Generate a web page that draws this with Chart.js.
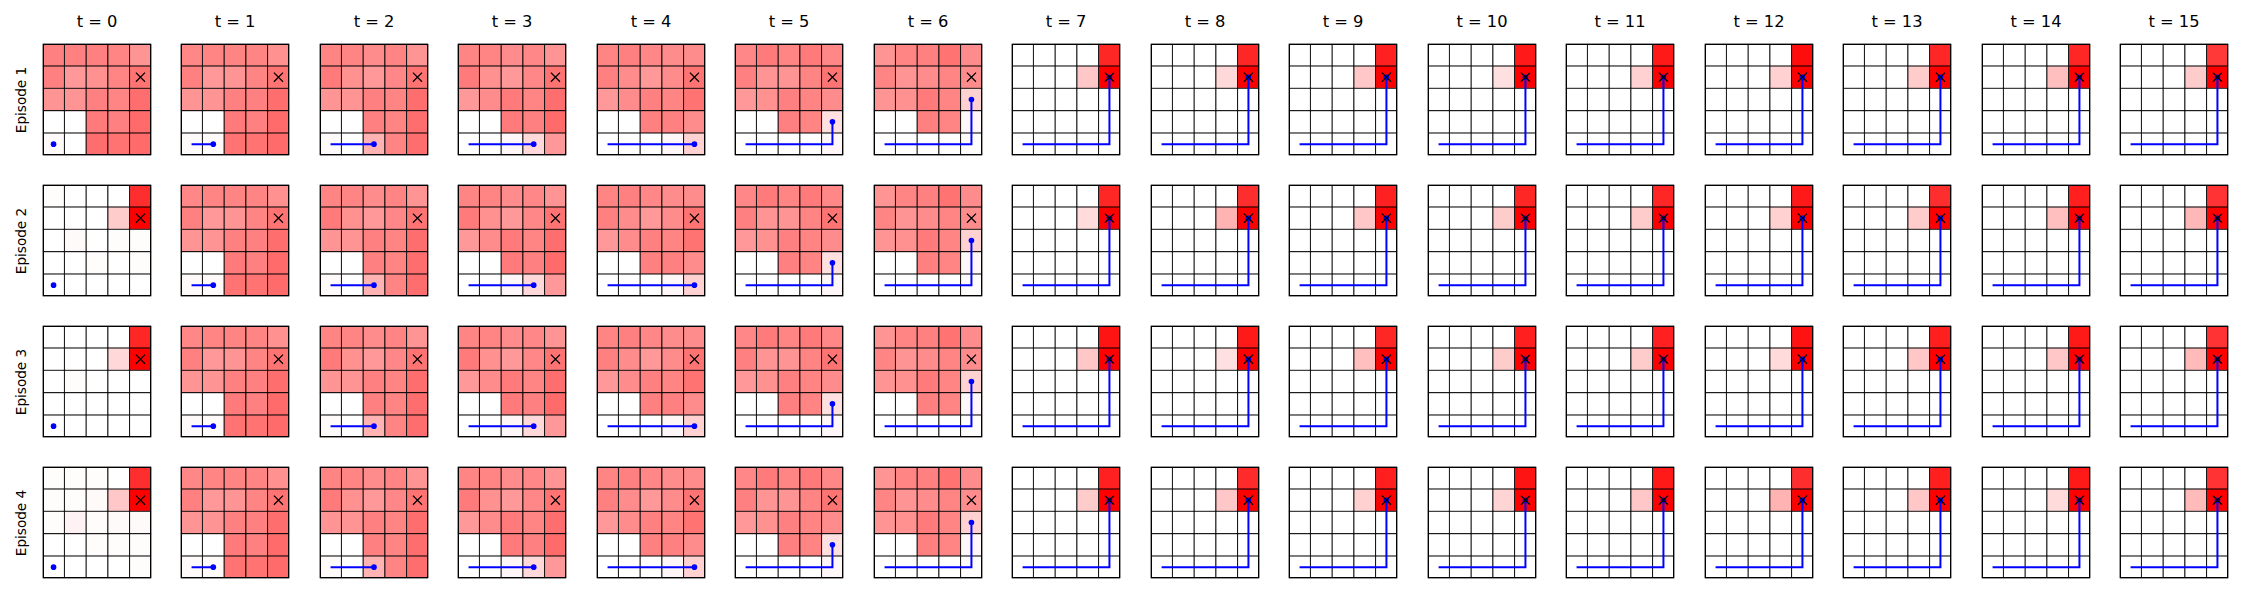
<!DOCTYPE html>
<html>
<head>
<meta charset="utf-8">
<script src="https://cdn.jsdelivr.net/npm/chart.js@4.4.1/dist/chart.umd.min.js"></script>
<style>
  html, body { margin: 0; padding: 0; background: #fff; }
  #fig { position: relative; width: 2250px; height: 600px; font-family: 'DejaVu Sans', sans-serif; color: #000; }
  #fig canvas { position: absolute; }
  .title { position: absolute; font-size: 16.3px; line-height: 20px; text-align: center; white-space: nowrap; }
  .ylab { position: absolute; font-size: 13.6px; line-height: 16px; text-align: center; white-space: nowrap; transform: rotate(-90deg); }
</style>
</head>
<body>
<div id="fig"></div>
<script>
const timeLabels = ['t = 0', 't = 1', 't = 2', 't = 3', 't = 4', 't = 5', 't = 6', 't = 7',
  't = 8', 't = 9', 't = 10', 't = 11', 't = 12', 't = 13', 't = 14', 't = 15'];
const episodeLabels = ['Episode 1', 'Episode 2', 'Episode 3', 'Episode 4'];

// agent cell per time step (column, row from bottom)
const pathCol = [0, 1, 2, 3, 4, 4, 4, 4, 4, 4, 4, 4, 4, 4, 4, 4];
const pathRow = [0, 0, 0, 0, 0, 1, 2, 3, 3, 3, 3, 3, 3, 3, 3, 3];
const goalCol = 4;
const goalRow = 3;

// heat values, rows listed top to bottom
const startMaps = [
  [[0.50, 0.50, 0.50, 0.48, 0.42],
   [0.50, 0.40, 0.43, 0.48, 0.55],
   [0.42, 0.42, 0.50, 0.48, 0.57],
   [0.00, 0.00, 0.52, 0.50, 0.58],
   [0.02, 0.00, 0.57, 0.55, 0.58]],
  [[0.01, 0.00, 0.00, 0.00, 0.82],
   [0.00, 0.00, 0.00, 0.20, 1.00],
   [0.00, 0.02, 0.00, 0.01, 0.01],
   [0.00, 0.00, 0.01, 0.00, 0.01],
   [0.00, 0.00, 0.00, 0.00, 0.00]],
  [[0.00, 0.00, 0.00, 0.00, 0.85],
   [0.00, 0.00, 0.00, 0.15, 1.00],
   [0.00, 0.01, 0.00, 0.00, 0.00],
   [0.00, 0.00, 0.00, 0.00, 0.00],
   [0.00, 0.00, 0.00, 0.00, 0.00]],
  [[0.01, 0.01, 0.01, 0.00, 0.82],
   [0.01, 0.01, 0.02, 0.22, 1.00],
   [0.01, 0.05, 0.01, 0.02, 0.02],
   [0.00, 0.00, 0.01, 0.01, 0.01],
   [0.00, 0.00, 0.00, 0.00, 0.01]]
];

// t = 1 .. 6, same for every episode
const stepMaps = [
  [[0.47, 0.48, 0.48, 0.48, 0.43],
   [0.50, 0.40, 0.42, 0.48, 0.55],
   [0.42, 0.42, 0.50, 0.50, 0.57],
   [0.00, 0.00, 0.52, 0.50, 0.58],
   [0.02, 0.02, 0.55, 0.55, 0.58]],
  [[0.48, 0.48, 0.45, 0.48, 0.42],
   [0.52, 0.43, 0.40, 0.47, 0.55],
   [0.42, 0.42, 0.50, 0.48, 0.57],
   [0.00, 0.00, 0.50, 0.48, 0.57],
   [0.02, 0.00, 0.30, 0.48, 0.57]],
  [[0.48, 0.48, 0.45, 0.47, 0.42],
   [0.52, 0.43, 0.40, 0.47, 0.55],
   [0.40, 0.45, 0.52, 0.48, 0.57],
   [0.00, 0.00, 0.52, 0.50, 0.58],
   [0.00, 0.00, 0.03, 0.15, 0.40]],
  [[0.48, 0.50, 0.47, 0.45, 0.45],
   [0.50, 0.45, 0.40, 0.45, 0.55],
   [0.40, 0.45, 0.50, 0.48, 0.55],
   [0.00, 0.00, 0.50, 0.50, 0.45],
   [0.00, 0.00, 0.00, 0.03, 0.18]],
  [[0.47, 0.52, 0.48, 0.52, 0.47],
   [0.50, 0.42, 0.42, 0.48, 0.55],
   [0.40, 0.43, 0.50, 0.48, 0.45],
   [0.00, 0.00, 0.50, 0.48, 0.12],
   [0.00, 0.00, 0.00, 0.00, 0.03]],
  [[0.42, 0.48, 0.50, 0.55, 0.45],
   [0.48, 0.42, 0.45, 0.48, 0.45],
   [0.42, 0.43, 0.52, 0.48, 0.18],
   [0.00, 0.00, 0.50, 0.48, 0.03],
   [0.00, 0.00, 0.00, 0.00, 0.01]]
];

// t = 7 .. 15: the cell left of the goal and the cell above it
const lateNeighbor = [
  [0.22, 0.15, 0.22, 0.12, 0.18, 0.18, 0.20, 0.25, 0.20],
  [0.14, 0.30, 0.22, 0.20, 0.20, 0.18, 0.20, 0.25, 0.28],
  [0.22, 0.12, 0.25, 0.20, 0.20, 0.14, 0.22, 0.22, 0.27],
  [0.20, 0.22, 0.18, 0.17, 0.22, 0.30, 0.22, 0.14, 0.27]
];
const lateTop = [
  [0.85, 0.85, 0.87, 0.90, 0.90, 0.95, 0.85, 0.85, 0.78],
  [0.85, 0.82, 0.87, 0.85, 0.85, 0.90, 0.82, 0.88, 0.80],
  [0.92, 0.90, 0.85, 0.88, 0.87, 0.93, 0.88, 0.90, 0.80],
  [0.87, 0.83, 0.88, 0.92, 0.90, 0.82, 0.88, 0.90, 0.80]
];
const lateGoal = 1.0;

const heat = (v) => {
  const g = Math.round(255 * (1 - v));
  return `rgb(255, ${g}, ${g})`;
};

function mapFor(ep, t) {
  if (t === 0) return startMaps[ep];
  if (t <= 6) return stepMaps[t - 1];
  const m = [0, 1, 2, 3, 4].map(() => [0, 0, 0, 0, 0]);
  m[0][4] = lateTop[ep][t - 7];
  m[1][3] = lateNeighbor[ep][t - 7];
  m[1][4] = lateGoal;
  return m;
}

const framePlugin = {
  id: 'frame',
  afterDraw(chart) {
    const { ctx, chartArea: a } = chart;
    ctx.save();
    ctx.strokeStyle = '#000';
    ctx.lineWidth = 1.3;
    ctx.strokeRect(a.left + 0.65, a.top + 0.65, a.right - a.left - 1.3, a.bottom - a.top - 1.3);
    ctx.restore();
  }
};

const fig = document.getElementById('fig');
const PANEL_W = 124;
const PANEL_H = 127;
const panelLeft = (t) => Math.round(35 + t * 138.49);
const panelTop = (ep) => Math.round(36 + ep * 141.1);

timeLabels.forEach((label, t) => {
  const d = document.createElement('div');
  d.className = 'title';
  d.textContent = label;
  d.style.left = panelLeft(t) + 'px';
  d.style.width = PANEL_W + 'px';
  d.style.top = '12px';
  fig.appendChild(d);
});

episodeLabels.forEach((label, ep) => {
  const d = document.createElement('div');
  d.className = 'ylab';
  d.textContent = label;
  d.style.width = PANEL_H + 'px';
  d.style.left = (20.7 - PANEL_H / 2) + 'px';
  d.style.top = (panelTop(ep) + PANEL_H / 2 - 8) + 'px';
  fig.appendChild(d);
});

for (let ep = 0; ep < episodeLabels.length; ep++) {
  for (let t = 0; t < timeLabels.length; t++) {
    const canvas = document.createElement('canvas');
    canvas.width = PANEL_W;
    canvas.height = PANEL_H;
    canvas.style.left = panelLeft(t) + 'px';
    canvas.style.top = panelTop(ep) + 'px';
    fig.appendChild(canvas);

    const grid = mapFor(ep, t);
    const cells = [];
    const colors = [];
    grid.forEach((row, r) => {
      row.forEach((v, c) => {
        cells.push({ x: c + 0.5, y: [4 - r, 5 - r] });
        colors.push(heat(v));
      });
    });

    const path = [];
    for (let k = 0; k <= t; k++) {
      path.push({ x: pathCol[k] + 0.5, y: pathRow[k] + 0.5 });
    }

    new Chart(canvas, {
      type: 'bar',
      data: {
        datasets: [
          {
            type: 'scatter',
            data: [{ x: goalCol + 0.5, y: goalRow + 0.5 }],
            pointStyle: 'crossRot',
            pointRadius: 6.4,
            pointBorderColor: '#000',
            pointBorderWidth: 1.3,
            order: 0,
          },
          {
            type: 'line',
            data: path,
            borderColor: '#0000ff',
            borderWidth: 2,
            pointRadius: path.map((p, i) => (i === path.length - 1 ? 2.8 : 0)),
            pointBackgroundColor: '#0000ff',
            pointBorderWidth: 0,
            order: 1,
          },
          {
            data: cells,
            backgroundColor: colors,
            borderColor: '#000',
            borderWidth: 0.85,
            borderSkipped: false,
            barPercentage: 1,
            categoryPercentage: 1,
            order: 2,
          },
        ],
      },
      options: {
        responsive: false,
        animation: false,
        devicePixelRatio: 1,
        events: [],
        layout: { padding: 0 },
        plugins: { legend: { display: false }, tooltip: { enabled: false } },
        scales: {
          x: { type: 'linear', min: 0, max: 5, offset: false, display: false, ticks: { stepSize: 1 } },
          y: { type: 'linear', min: 0, max: 5, display: false, ticks: { stepSize: 1 } },
        },
      },
      plugins: [framePlugin],
    });
  }
}
</script>
</body>
</html>
